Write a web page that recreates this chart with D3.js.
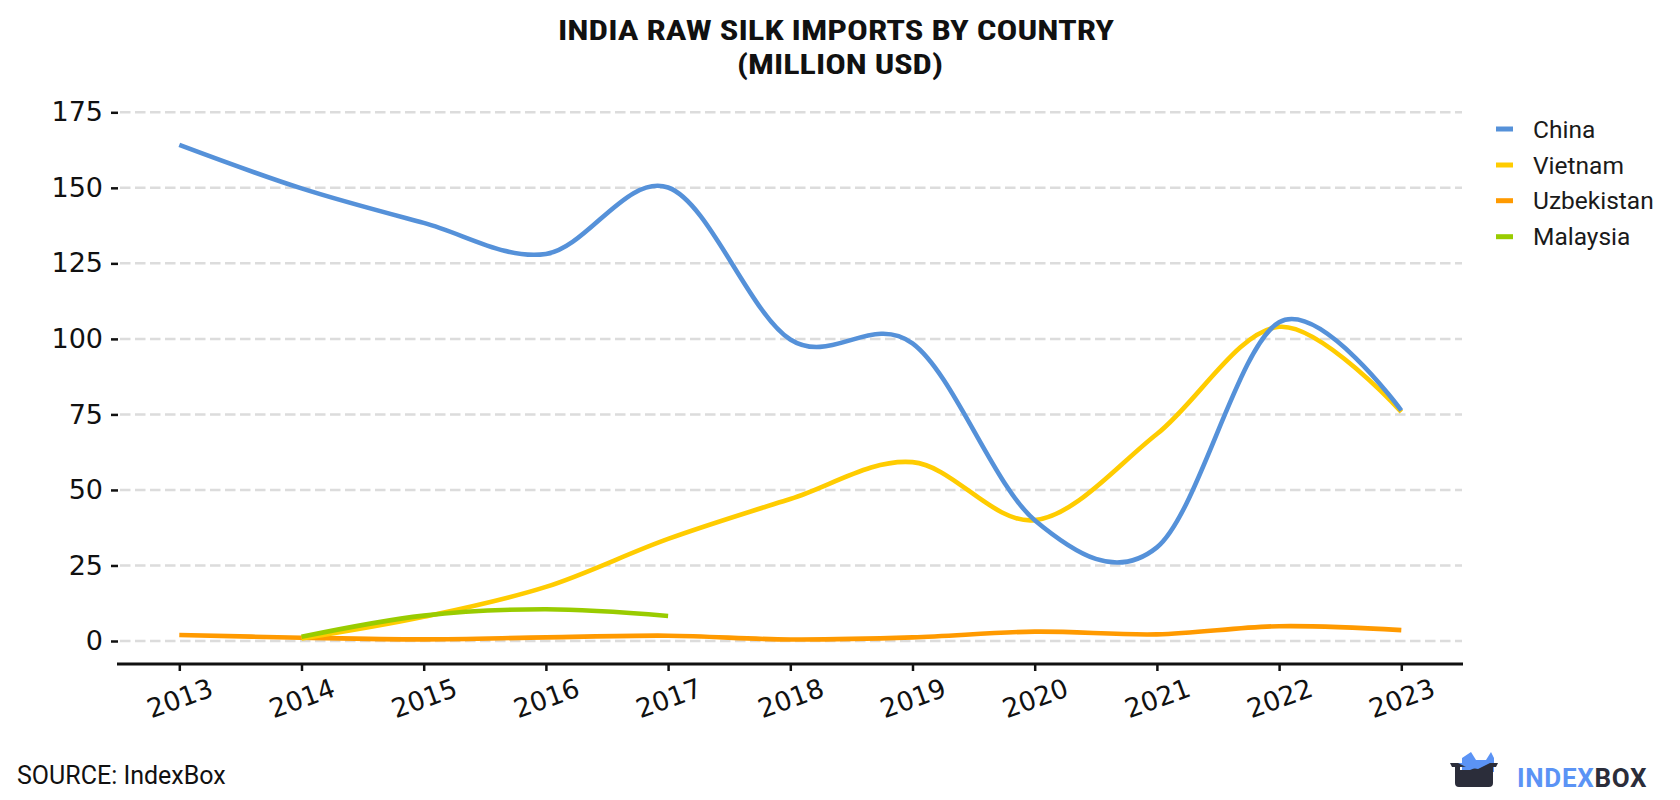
<!DOCTYPE html>
<html>
<head>
<meta charset="utf-8">
<script src="https://cdn.jsdelivr.net/npm/d3@7"></script>
<style>
  html, body { margin: 0; padding: 0; background: #ffffff; }
  svg { display: block; }
</style>
</head>
<body>
<svg id="chart" width="1680" height="800"></svg>
<script>
// ---- data ----
const years = [2013, 2014, 2015, 2016, 2017, 2018, 2019, 2020, 2021, 2022, 2023];
const chinaYears = [2013, 2014, 2015, 2016, 2017, 2018, 2019, 2020, 2021, 2022, 2023];
const chinaValues = [164.2, 149.8, 138.4, 128.1, 150.1, 99.8, 98.5, 40, 31.0, 105.5, 76.3];
const vietnamYears = [2014, 2015, 2016, 2017, 2018, 2019, 2020, 2021, 2022, 2023];
const vietnamValues = [0.8, 8.0, 17.9, 33.8, 47, 59.2, 40, 68.5, 104, 75.8];
const uzbekistanYears = [2013, 2014, 2015, 2016, 2017, 2018, 2019, 2020, 2021, 2022, 2023];
const uzbekistanValues = [2.0, 1.1, 0.55, 1.2, 1.75, 0.5, 1.2, 3.1, 2.2, 4.9, 3.6];
const malaysiaYears = [2014, 2015, 2016, 2017];
const malaysiaValues = [1.4, 8.4, 10.5, 8.3];
const yTicks = [0, 25, 50, 75, 100, 125, 150, 175];
const seriesNames = ["China", "Vietnam", "Uzbekistan", "Malaysia"];
const seriesColors = ["#5591d9", "#ffcc00", "#ff9a00", "#99cc00"];

const titleLines = ["INDIA RAW SILK IMPORTS BY COUNTRY", "(MILLION USD)"];
const sourceText = "SOURCE: IndexBox";

// ---- layout ----
const svg = d3.select("#chart");
const x = d3.scaleLinear().domain([2013, 2023]).range([179.3, 1401.3]);
const y = d3.scaleLinear().domain([0, 175]).range([641, 112.3]);

// title
svg.append("text")
  .attr("x", 836).attr("y", 40)
  .attr("text-anchor", "middle")
  .attr("font-family", "'Roboto Condensed', Roboto, sans-serif")
  .attr("font-weight", "bold").attr("font-size", 28.5)
  .attr("fill", "#111")
  .attr("textLength", 556).attr("lengthAdjust", "spacingAndGlyphs")
  .text(titleLines[0]);
svg.append("text")
  .attr("x", 840).attr("y", 74)
  .attr("text-anchor", "middle")
  .attr("font-family", "'Roboto Condensed', Roboto, sans-serif")
  .attr("font-weight", "bold").attr("font-size", 28.5)
  .attr("fill", "#111")
  .attr("textLength", 206).attr("lengthAdjust", "spacingAndGlyphs")
  .text(titleLines[1]);

// gridlines
svg.append("g").selectAll("line").data(yTicks).join("line")
  .attr("x1", 120).attr("x2", 1462)
  .attr("y1", d => y(d)).attr("y2", d => y(d))
  .attr("stroke", "#dcdcdc").attr("stroke-width", 2.5)
  .attr("stroke-dasharray", "10.5,4.5");

// y axis
const yAxis = svg.append("g").attr("transform", "translate(118,0)")
  .call(d3.axisLeft(y).tickValues(yTicks).tickSize(7).tickPadding(8));
yAxis.select(".domain").remove();
yAxis.selectAll(".tick line").attr("stroke", "#111").attr("stroke-width", 2.5);
yAxis.selectAll(".tick text")
  .attr("font-family", "'DejaVu Sans', sans-serif")
  .attr("font-size", 27).attr("fill", "#111");

// x axis
const xAxis = svg.append("g").attr("transform", "translate(0,664)")
  .call(d3.axisBottom(x).tickValues(years).tickFormat(d3.format("d")).tickSize(7).tickPadding(0));
xAxis.select(".domain").remove();
xAxis.append("line").attr("x1", 117).attr("x2", 1463).attr("y1", 0).attr("y2", 0)
  .attr("stroke", "#111").attr("stroke-width", 3);
xAxis.selectAll(".tick line").attr("stroke", "#111").attr("stroke-width", 2.5);
xAxis.selectAll(".tick text")
  .attr("font-family", "'DejaVu Sans', sans-serif")
  .attr("font-size", 26.5).attr("fill", "#111")
  .attr("text-anchor", "middle")
  .attr("dy", null)
  .attr("y", 0)
  .attr("dominant-baseline", "central")
  .attr("transform", "translate(0,34) rotate(-20)");

// lines
const line = d3.line()
  .x(d => x(d[0])).y(d => y(d[1]))
  .curve(d3.curveCardinal.tension(0));
const seriesData = [
  d3.zip(chinaYears, chinaValues),
  d3.zip(vietnamYears, vietnamValues),
  d3.zip(uzbekistanYears, uzbekistanValues),
  d3.zip(malaysiaYears, malaysiaValues)
];
const order = [2, 1, 0, 3];
svg.append("g").selectAll("path").data(order).join("path")
  .attr("d", i => line(seriesData[i]))
  .attr("fill", "none")
  .attr("stroke", i => seriesColors[i])
  .attr("stroke-width", 4.6)
  .attr("stroke-linejoin", "round");

// legend
const legend = svg.append("g");
const legY = [129, 165, 200.7, 236.7];
seriesNames.forEach((n, i) => {
  legend.append("line")
    .attr("x1", 1496).attr("x2", 1513)
    .attr("y1", legY[i]).attr("y2", legY[i])
    .attr("stroke", seriesColors[i]).attr("stroke-width", 5);
  legend.append("text")
    .attr("x", 1533).attr("y", legY[i])
    .attr("dominant-baseline", "central")
    .attr("font-family", "Roboto, sans-serif").attr("font-size", 24.5)
    .attr("fill", "#1a1a1a")
    .text(n);
});

// source
svg.append("text")
  .attr("x", 17).attr("y", 784)
  .attr("font-family", "Roboto, sans-serif").attr("font-size", 25)
  .attr("fill", "#111")
  .text(sourceText);

// logo
const logo = svg.append("g");
logo.append("path")
  .attr("d", "M1462,758 L1471,752 L1476,760 L1486,760 L1491,752 L1494,758 L1494,772 L1462,772 Z")
  .attr("fill", "#5b93f5");
logo.append("path")
  .attr("d", "M1450,763 L1498,763 L1496,767 L1493,767 L1493,783 Q1493,787 1489,787 L1459,787 Q1455,787 1455,783 L1455,767 L1452,767 Z M1460,767 L1460,770 L1470,770 L1480,766 Z")
  .attr("fill", "#2b2d3a");
logo.append("path")
  .attr("d", "M1458,763 L1490,763 L1478,769 L1466,767 Z")
  .attr("fill", "#5b93f5");
logo.append("text")
  .attr("x", 1517).attr("y", 787)
  .attr("font-family", "Roboto, sans-serif").attr("font-weight", "bold")
  .attr("font-size", 26).attr("letter-spacing", 0.7)
  .attr("fill", "#5b93f5")
  .text("INDEX")
  .append("tspan").attr("fill", "#2b2d3a").text("BOX");
</script>
</body>
</html>
